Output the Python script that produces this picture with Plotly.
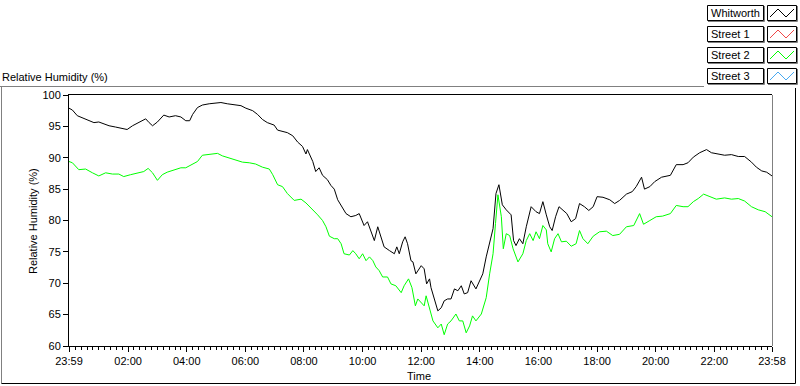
import plotly.graph_objects as go

# ---------------- data (minutes elapsed since 23:59) ----------------
whitworth_t = [0, 7, 17, 27, 41, 51, 61, 71, 82, 95, 109, 119, 130, 143, 157, 164, 171, 181, 194, 205,
               218, 229, 239, 247, 253, 263, 273, 287, 300, 311, 324, 338, 352, 362, 376, 386, 396, 406,
               420, 427, 437, 447, 458, 468, 478, 485, 488, 493, 499, 505, 512, 519, 529, 536, 543, 550,
               560, 567, 577, 587, 594, 604, 611, 618, 625, 632, 639, 645, 656, 666, 671, 676, 683, 688,
               693, 700, 704, 710, 721, 727, 732, 738, 741, 748, 755, 762, 768, 775, 782, 789, 796, 803,
               809, 816, 823, 833, 840, 847, 854, 861, 868, 874, 880, 887, 895, 905, 910, 915, 922, 929,
               936, 946, 956, 963, 970, 977, 984, 989, 996, 1003, 1011, 1019, 1028, 1037, 1045, 1055,
               1064, 1073, 1081, 1093, 1107, 1117, 1127, 1141, 1153, 1161, 1172, 1178, 1189, 1199, 1213,
               1231, 1243, 1257, 1267, 1278, 1291, 1305, 1315, 1329, 1342, 1356, 1370, 1383, 1397, 1407,
               1418, 1428, 1439]
whitworth_rh = [97.9, 97.6, 96.7, 96.4, 95.9, 95.6, 95.7, 95.4, 95.1, 94.9, 94.6, 94.5, 95.1, 95.6, 96.2,
                95.6, 95.1, 95.7, 96.8, 96.5, 96.7, 96.5, 95.9, 95.9, 96.9, 98.0, 98.4, 98.6, 98.7, 98.8,
                98.6, 98.4, 98.3, 97.9, 97.5, 96.9, 96.1, 95.6, 95.2, 94.4, 94.2, 94.0, 93.5, 92.5, 91.8,
                90.6, 91.3, 90.5, 89.4, 87.8, 88.4, 87.2, 86.5, 85.6, 85.0, 83.3, 82.0, 81.1, 80.6, 80.8,
                81.1, 79.2, 79.8, 78.4, 76.8, 79.0, 77.1, 75.8, 75.2, 74.7, 75.8, 74.7, 76.6, 77.4, 76.3,
                73.6, 73.4, 71.5, 72.8, 72.3, 69.9, 70.7, 69.3, 67.5, 65.6, 66.1, 67.2, 67.5, 67.5, 69.1,
                68.8, 69.6, 68.3, 68.5, 70.4, 69.1, 70.4, 71.5, 74.2, 76.6, 78.7, 84.3, 85.7, 82.5, 81.7,
                80.9, 76.8, 76.0, 77.1, 76.3, 79.0, 82.2, 81.4, 81.1, 83.0, 80.9, 79.0, 78.4, 80.6, 82.2,
                81.7, 81.1, 79.8, 80.3, 82.7, 82.2, 81.6, 82.2, 83.8, 83.7, 83.3, 82.7, 83.2, 84.2, 84.6,
                85.4, 86.9, 85.0, 85.4, 86.2, 86.9, 87.2, 88.9, 88.9, 89.2, 90.1, 90.8, 91.3, 90.8, 90.6,
                90.4, 90.5, 90.2, 90.2, 89.3, 88.5, 87.9, 87.7, 87.1]

street2_t = [0, 7, 20, 34, 48, 61, 75, 89, 102, 112, 126, 140, 153, 162, 171, 181, 191, 201, 215, 229,
             239, 247, 263, 273, 287, 304, 314, 328, 341, 355, 369, 382, 396, 410, 417, 427, 437, 447,
             461, 475, 485, 493, 499, 509, 519, 526, 533, 543, 550, 557, 563, 574, 581, 587, 594, 601,
             608, 615, 622, 628, 635, 642, 652, 659, 669, 680, 686, 695, 702, 709, 714, 721, 727, 731,
             738, 745, 755, 762, 768, 775, 782, 792, 799, 806, 813, 820, 826, 833, 844, 854, 861, 868,
             873, 878, 885, 889, 895, 902, 909, 919, 929, 936, 943, 950, 956, 963, 970, 977, 980, 987,
             994, 1001, 1008, 1018, 1028, 1038, 1045, 1052, 1062, 1073, 1086, 1100, 1113, 1127, 1141,
             1156, 1168, 1176, 1189, 1202, 1215, 1231, 1243, 1257, 1267, 1278, 1288, 1299, 1312, 1325,
             1342, 1356, 1370, 1383, 1397, 1411, 1425, 1439]
street2_rh = [89.4, 89.2, 88.1, 88.2, 87.6, 87.1, 87.6, 87.4, 87.4, 87.0, 87.3, 87.6, 87.8, 88.3, 87.6,
              86.4, 87.3, 87.7, 88.0, 88.4, 88.4, 88.7, 89.4, 90.4, 90.5, 90.7, 90.3, 90.0, 89.6, 89.3,
              89.2, 89.0, 88.5, 88.2, 87.3, 85.7, 85.4, 84.3, 83.2, 83.4, 82.8, 82.2, 81.7, 80.9, 80.0,
              79.0, 77.5, 77.1, 77.1, 76.3, 74.7, 74.5, 75.2, 74.7, 73.9, 74.7, 73.6, 74.2, 73.6, 72.6,
              72.0, 71.0, 71.0, 69.9, 69.6, 68.5, 69.6, 70.7, 69.3, 66.4, 67.5, 66.9, 66.4, 68.0, 66.1,
              64.0, 62.9, 63.5, 61.8, 63.5, 64.0, 65.1, 64.0, 64.0, 62.1, 63.2, 64.8, 64.0, 65.1, 67.7,
              71.5, 74.7, 79.5, 84.1, 80.6, 75.5, 77.9, 77.6, 75.5, 73.4, 74.7, 76.8, 77.9, 76.8, 78.2,
              77.1, 79.2, 78.5, 76.3, 75.0, 77.1, 77.9, 76.6, 76.7, 75.9, 76.3, 78.4, 77.1, 76.3, 77.5,
              78.2, 78.3, 77.6, 77.8, 79.0, 79.2, 81.1, 79.4, 80.0, 80.6, 80.7, 81.1, 82.4, 82.2, 82.2,
              83.0, 83.5, 84.2, 83.8, 83.4, 83.6, 83.4, 83.5, 83.1, 82.2, 81.7, 81.4, 80.6]

x_tick_vals = [0, 121, 241, 361, 481, 601, 721, 841, 961, 1081, 1201, 1321, 1439]
x_tick_labels = ["23:59", "02:00", "04:00", "06:00", "08:00", "10:00", "12:00", "14:00",
                 "16:00", "18:00", "20:00", "22:00", "23:58"]
y_tick_vals = [60, 65, 70, 75, 80, 85, 90, 95, 100]

legend_names = ["Whitworth", "Street 1", "Street 2", "Street 3"]
legend_colors = ["#000000", "#F04848", "#00FF00", "#48A8F0"]

# ---------------- layout geometry (pixels) ----------------
W, H = 800, 386
L, R, T, B = 69, 772, 95, 346
FONT = "Liberation Sans, Arial, sans-serif"


def px(x):
    return (x - L) / (R - L)


def py(y):
    return (B - y) / (B - T)


fig = go.Figure()
fig.add_trace(go.Scatter(x=whitworth_t, y=whitworth_rh, mode="lines", name="Whitworth",
                         line=dict(color=legend_colors[0], width=1)))
fig.add_trace(go.Scatter(x=street2_t, y=street2_rh, mode="lines", name="Street 2",
                         line=dict(color=legend_colors[2], width=1)))

shapes = []


def line(x0, y0, x1, y1, color, width=1):
    shapes.append(dict(type="line", xref="paper", yref="paper",
                       x0=px(x0), y0=py(y0), x1=px(x1), y1=py(y1),
                       line=dict(color=color, width=width)))


# outer panel frame
line(0, 86.5, 704, 86.5, "#808080")
line(1.5, 86.5, 1.5, 383.5, "#808080")
line(1.5, 383.5, 795.5, 383.5, "#000000")
line(795.5, 88, 795.5, 383.5, "#000000")
# right edge of the plot area (grey)
line(R + 0.5, T, R + 0.5, B, "#808080")

annotations = []
# legend
tops = [5, 26, 47, 68]
for i, (name, col) in enumerate(zip(legend_names, legend_colors)):
    t = tops[i]
    b = t + 15
    line(764.5, t + 1, 764.5, b + 1.5, "#808080")
    line(708, b + 1.5, 764.5, b + 1.5, "#808080")
    shapes.append(dict(type="rect", xref="paper", yref="paper",
                       x0=px(707.5), y0=py(t + 0.5), x1=px(763.5), y1=py(b + 0.5),
                       line=dict(color="#000000", width=1), fillcolor="white"))
    line(797.5, t + 1, 797.5, b + 1.5, "#808080")
    line(768, b + 1.5, 797.5, b + 1.5, "#808080")
    shapes.append(dict(type="rect", xref="paper", yref="paper",
                       x0=px(767.5), y0=py(t + 0.5), x1=px(796.5), y1=py(b + 0.5),
                       line=dict(color="#000000", width=1), fillcolor="white"))
    pts = [(770, t + 12), (778, t + 4), (786, t + 12), (794, t + 4)]
    path = "M " + " L ".join(f"{px(a)},{py(c)}" for a, c in pts)
    shapes.append(dict(type="path", xref="paper", yref="paper", path=path,
                       line=dict(color=col, width=1)))
    annotations.append(dict(text=name, xref="paper", yref="paper", x=px(709), y=py(t + 8),
                            xanchor="left", yanchor="middle", showarrow=False,
                            font=dict(family=FONT, size=11, color="black")))

annotations.append(dict(text="Relative Humidity (%)", xref="paper", yref="paper",
                        x=px(0), y=py(77), xanchor="left", yanchor="middle", showarrow=False,
                        font=dict(family=FONT, size=11, color="black")))
annotations.append(dict(text="Relative Humidity (%)", xref="paper", yref="paper",
                        x=px(33), y=py(221), xanchor="center", yanchor="middle", textangle=-90,
                        showarrow=False, font=dict(family=FONT, size=11, color="black")))
annotations.append(dict(text="Time", xref="paper", yref="paper",
                        x=px(419), y=py(376), xanchor="center", yanchor="middle",
                        showarrow=False, font=dict(family=FONT, size=11, color="black")))

fig.update_layout(
    width=W, height=H,
    margin=dict(l=L, r=W - R, t=T, b=H - B, pad=0),
    paper_bgcolor="white", plot_bgcolor="white",
    showlegend=False,
    font=dict(family=FONT, size=11, color="black"),
    shapes=shapes, annotations=annotations,
    xaxis=dict(range=[0, 1439], tickmode="array", tickvals=x_tick_vals, ticktext=x_tick_labels,
               ticks="outside", ticklen=5, tickcolor="black", tickwidth=1,
               showline=True, linecolor="black", linewidth=1, mirror=True,
               showgrid=False, zeroline=False, tickfont=dict(size=11),
               minor=dict(tickmode="linear", ticks="outside", ticklen=3, tickcolor="black",
                          tickwidth=1, tick0=1, dtick=12, showgrid=False)),
    yaxis=dict(range=[60, 100], tickmode="array", tickvals=y_tick_vals,
               ticks="outside", ticklen=5, tickcolor="black", tickwidth=1,
               showline=True, linecolor="black", linewidth=1, mirror=False,
               showgrid=False, zeroline=False, tickfont=dict(size=11)),
)

fig.write_html("out.html", config={"displayModeBar": False},
               post_script="document.body.style.margin='0';document.body.style.padding='0';")
